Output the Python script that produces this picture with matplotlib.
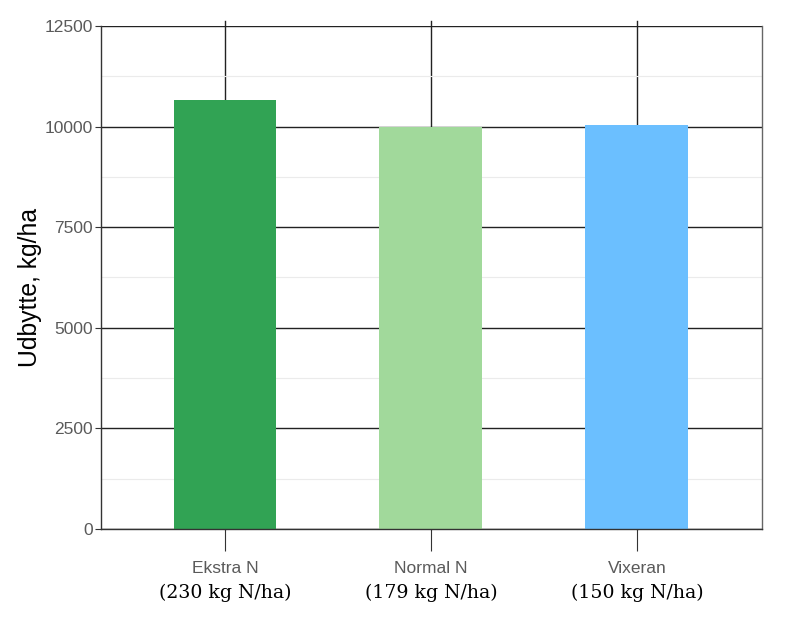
import numpy as np
import matplotlib
matplotlib.use("Agg")
import matplotlib.pyplot as plt
from matplotlib.ticker import MultipleLocator

# --- Data ---
categories = ['Ekstra N', 'Normal N', 'Vixeran']
n_rates = ['(230 kg N/ha)', '(179 kg N/ha)', '(150 kg N/ha)']
yields = [10660, 9990, 10040]
colors = ['#31a354', '#a1d99b', '#6bbfff']


def main():
    plt.rcParams['font.family'] = ['Liberation Sans', 'DejaVu Sans']

    fig = plt.figure(figsize=(8.1, 6.31), dpi=100)
    ax = fig.add_axes([0.1247, 0.1617, 0.816, 0.7971])

    x = np.arange(len(categories))

    # gridlines behind the bars
    ax.set_axisbelow(True)
    ax.yaxis.set_major_locator(MultipleLocator(2500))
    ax.yaxis.set_minor_locator(MultipleLocator(1250))
    ax.grid(True, which='major', axis='y', color='#222222', linewidth=1.0)
    ax.grid(True, which='minor', axis='y', color='#ebebeb', linewidth=0.8)
    for xi in x:
        ax.axvline(xi, ymin=0, ymax=1.01, color='#222222', linewidth=1.0,
                   zorder=0, clip_on=False)

    ax.bar(x, yields, width=0.5, color=colors, zorder=2)

    ax.set_xlim(-0.602, 2.607)
    ax.set_ylim(0, 12500)

    ax.set_xticks(x)
    ax.set_xticklabels(categories)
    ax.tick_params(axis='x', length=16, width=0.8, color='#333333',
                   labelsize=12.5, labelcolor='#5a5a5a', pad=7)
    ax.tick_params(axis='y', which='major', length=4, width=0.8, color='#333333',
                   labelsize=12.5, labelcolor='#5a5a5a', pad=2)
    ax.tick_params(axis='y', which='minor', length=0)

    # second line of the category labels, in a serif face
    for xi, rate in zip(x, n_rates):
        ax.text(xi, -0.127, rate, transform=ax.get_xaxis_transform(),
                ha='center', va='center', fontsize=13.6, color='black',
                family='DejaVu Serif')

    ax.set_ylabel('Udbytte, kg/ha', fontsize=17.8, color='black')
    ax.yaxis.set_label_coords(-0.089, 0.481)

    for side in ['top', 'left', 'bottom', 'right']:
        ax.spines[side].set_color('#333333')
        ax.spines[side].set_linewidth(1.0)
    ax.spines['right'].set_color('#666666')
    ax.spines['top'].set_visible(False)

    fig.savefig('out.png', dpi=100)


if __name__ == '__main__':
    main()
